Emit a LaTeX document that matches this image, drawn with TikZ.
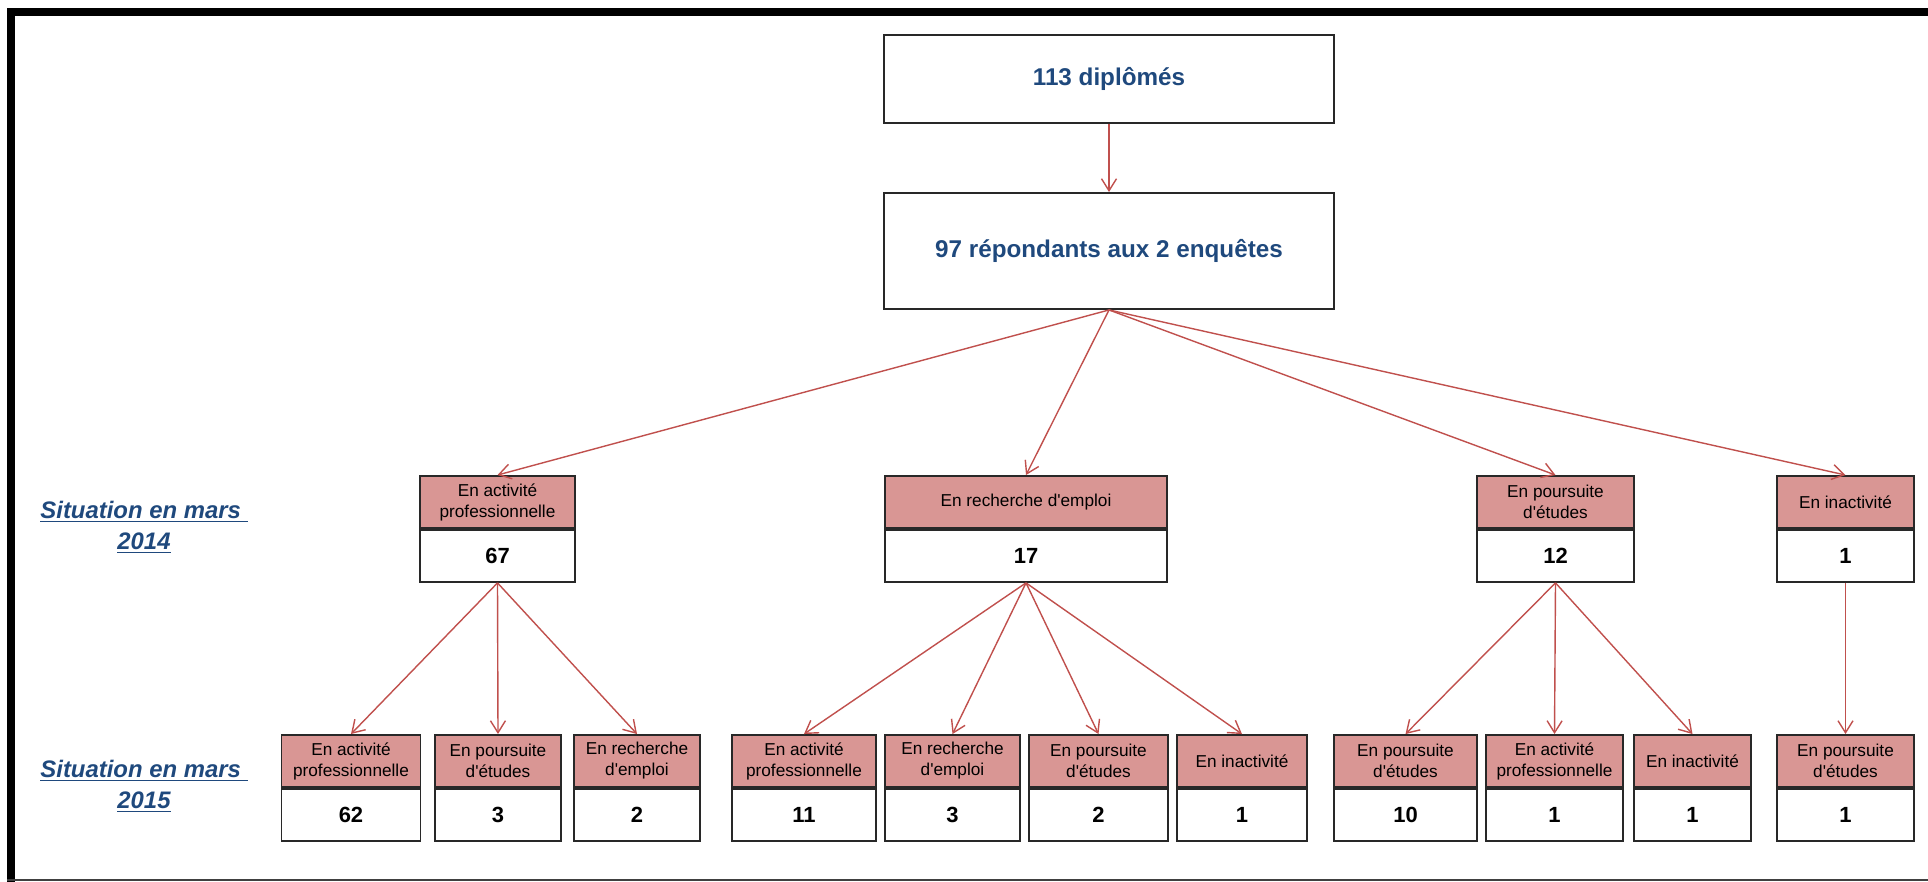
\documentclass[tikz,border=0pt]{standalone}
\usepackage{fontspec}
\setmainfont{Liberation Sans}
\usepackage{xcolor}
\usepackage{tikz}
\usetikzlibrary{arrows.meta, positioning}
\definecolor{headpink}{RGB}{217,150,148}
\definecolor{arrowred}{RGB}{192,80,77}
\definecolor{titleblue}{HTML}{1F497D}
\definecolor{boxline}{RGB}{40,40,40}

\begin{document}
\begin{tikzpicture}[x=0.02cm, y=-0.02cm,
    head/.style={draw=boxline, fill=headpink, line width=1.1pt, minimum width=#1, minimum height=1.04cm, inner sep=0pt, align=center, font=\fontsize{9.8}{12}\selectfont},
    num/.style={draw=boxline, fill=white, line width=1.1pt, minimum width=#1, minimum height=1.04cm, inner sep=0pt, font=\fontsize{12.5}{15}\selectfont\bfseries},
    topbox/.style={draw=boxline, line width=1.1pt, minimum width=9cm, inner sep=0pt, text=titleblue, font=\fontsize{13.8}{16}\selectfont\bfseries},
    flow/.style={draw=arrowred, line width=0.8pt, -{Straight Barb[length=2.4mm, width=3mm]}},
    year/.style={text=titleblue, align=center, font=\fontsize{13.6}{17.6}\selectfont\bfseries\itshape}]
    \useasboundingbox (0,0) rectangle (1928,882);
    % Frame
    \fill[black] (7,8) rectangle (15,882);
    \fill[black] (7,8) rectangle (1928,16);
    \fill[black!75] (7,879) rectangle (1928,881);
    % Totals
    \node[topbox, minimum height=1.76cm] (dipl) at (1109,79) {113 diplômés};
    \node[topbox, minimum height=2.32cm] (resp) at (1109,251) {97 répondants aux 2 enquêtes};
    \draw[flow] (dipl) -- (resp);
    % Row labels
    \node[year] (y14) at (144,527) {\underline{Situation en mars\ }\\\underline{2014}};
    \node[year] (y15) at (144,786) {\underline{Situation en mars\ }\\\underline{2015}};
    % Situation in March 2014
    \node[head=3.1cm] (act14) at (497.5,502) {En activité\\professionnelle};
    \node[num=3.1cm, below=0pt of act14] (act14n) {67};
    \node[head=5.64cm] (rech14) at (1026,502) {En recherche d\textquotesingle emploi};
    \node[num=5.64cm, below=0pt of rech14] (rech14n) {17};
    \node[head=3.14cm] (pours14) at (1555.5,502) {En poursuite\\d\textquotesingle études};
    \node[num=3.14cm, below=0pt of pours14] (pours14n) {12};
    \node[head=2.74cm] (inact14) at (1845.5,502) {En inactivité};
    \node[num=2.74cm, below=0pt of inact14] (inact14n) {1};
    % Situation in March 2015 - from activity
    \node[head=2.78cm] (actA) at (351,761) {En activité\\professionnelle};
    \node[num=2.78cm, below=0pt of actA] (actAn) {62};
    \node[head=2.52cm] (poursA) at (498,761) {En poursuite\\d\textquotesingle études};
    \node[num=2.52cm, below=0pt of poursA] (poursAn) {3};
    \node[head=2.52cm] (rechA) at (637,761) {En recherche\\d\textquotesingle emploi};
    \node[num=2.52cm, below=0pt of rechA] (rechAn) {2};
    % from job search
    \node[head=2.88cm] (actB) at (804,761) {En activité\\professionnelle};
    \node[num=2.88cm, below=0pt of actB] (actBn) {11};
    \node[head=2.7cm] (rechB) at (952.5,761) {En recherche\\d\textquotesingle emploi};
    \node[num=2.7cm, below=0pt of rechB] (rechBn) {3};
    \node[head=2.78cm] (poursB) at (1098.5,761) {En poursuite\\d\textquotesingle études};
    \node[num=2.78cm, below=0pt of poursB] (poursBn) {2};
    \node[head=2.6cm] (inactB) at (1242,761) {En inactivité};
    \node[num=2.6cm, below=0pt of inactB] (inactBn) {1};
    % from studies
    \node[head=2.86cm] (poursC) at (1405.5,761) {En poursuite\\d\textquotesingle études};
    \node[num=2.86cm, below=0pt of poursC] (poursCn) {10};
    \node[head=2.74cm] (actC) at (1554.5,761) {En activité\\professionnelle};
    \node[num=2.74cm, below=0pt of actC] (actCn) {1};
    \node[head=2.34cm] (inactC) at (1692.5,761) {En inactivité};
    \node[num=2.34cm, below=0pt of inactC] (inactCn) {1};
    % from inactivity
    \node[head=2.74cm] (poursD) at (1845.5,761) {En poursuite\\d\textquotesingle études};
    \node[num=2.74cm, below=0pt of poursD] (poursDn) {1};
    % Connectors
    \draw[flow] (resp.south) -- (act14.north);
    \draw[flow] (resp.south) -- (rech14.north);
    \draw[flow] (resp.south) -- (pours14.north);
    \draw[flow] (resp.south) -- (inact14.north);
    \draw[flow] (act14n.south) -- (actA.north);
    \draw[flow] (act14n.south) -- (poursA.north);
    \draw[flow] (act14n.south) -- (rechA.north);
    \draw[flow] (rech14n.south) -- (actB.north);
    \draw[flow] (rech14n.south) -- (rechB.north);
    \draw[flow] (rech14n.south) -- (poursB.north);
    \draw[flow] (rech14n.south) -- (inactB.north);
    \draw[flow] (pours14n.south) -- (poursC.north);
    \draw[flow] (pours14n.south) -- (actC.north);
    \draw[flow] (pours14n.south) -- (inactC.north);
    \draw[flow] (inact14n.south) -- (poursD.north);
\end{tikzpicture}
\end{document}
